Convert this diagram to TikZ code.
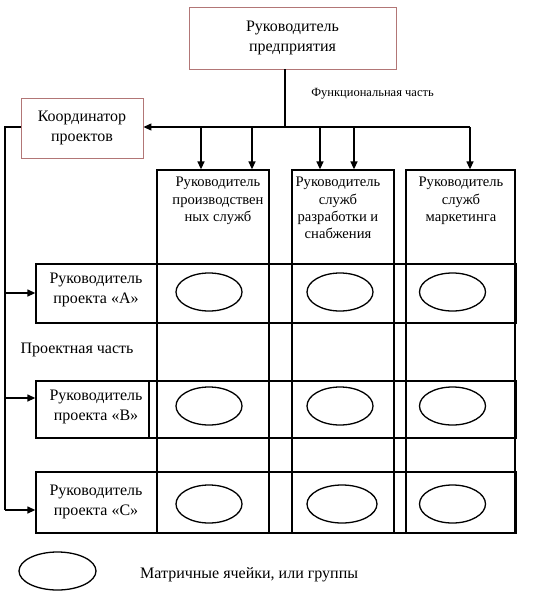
\documentclass[tikz,border=0pt]{standalone}
\usepackage{fontspec}
\setmainfont{Liberation Serif}
\usetikzlibrary{arrows.meta,shapes.geometric}
\definecolor{rosebrd}{RGB}{178,118,118}
\tikzset{
  x=1pt,y=-1pt,
  line/.style={line width=1.3pt,black},
  arr/.style={line, -{Triangle[length=8pt,width=7pt]}},
  redbox/.style={draw=rosebrd,line width=0.9pt,rectangle,inner sep=0pt,
    font=\fontsize{16}{20}\selectfont,align=center},
  blkbox/.style={draw,line width=1.3pt,rectangle,inner sep=0pt},
  main/.style={font=\fontsize{16}{20}\selectfont,align=center,inner sep=0pt},
  head/.style={font=\fontsize{14.6}{17.4}\selectfont,align=center,inner sep=0pt,anchor=north},
  small/.style={font=\fontsize{12.5}{15}\selectfont,inner sep=0pt},
  cell/.style={draw,line width=1.3pt,ellipse,minimum width=66pt,minimum height=38pt,inner sep=0pt},
}
\begin{document}
\begin{tikzpicture}
\useasboundingbox[fill=white] (0,0) rectangle (548,595);
% top boxes
\node[redbox,minimum width=207pt,minimum height=62pt] (top) at (292.5,38) {Руководитель\\предприятия};
\node[redbox,minimum width=122pt,minimum height=60pt] (coord) at (82,128) {Координатор\\проектов};
% columns
\node[blkbox,minimum width=112pt,minimum height=363pt] (c1) at (213,351.5) {};
\node[blkbox,minimum width=102pt,minimum height=363pt] (c2) at (343,351.5) {};
\node[blkbox,minimum width=109pt,minimum height=363pt] (c3) at (460.5,351.5) {};
% rows
\node[blkbox,minimum width=480pt,minimum height=59pt] (rA) at (276,293.5) {};
\node[blkbox,minimum width=480pt,minimum height=57pt] (rB) at (276,409.5) {};
\node[blkbox,minimum width=480pt,minimum height=61pt] (rC) at (276,502.5) {};
\draw[line] (c1.west |- rA.north) -- (c1.west |- rA.south);
\draw[line] (c1.west |- rB.north) -- (c1.west |- rB.south);
\draw[line] (c1.west |- rC.north) -- (c1.west |- rC.south);
\draw[line] (149,0 |- rB.north) -- (149,0 |- rB.south);
% header texts
\node[head] (h1) at (218,177) {Руководитель\\производствен\\ных служб};
\node[head] (h2) at (338,177) {Руководитель\\служб\\разработки и\\снабжения};
\node[head] (h3) at (461,177) {Руководитель\\служб\\маркетинга};
% row texts
\node[main] (tA) at (96,290) {Руководитель\\проекта «А»};
\node[main] (tB) at (96,407) {Руководитель\\проекта «В»};
\node[main] (tC) at (96,502) {Руководитель\\проекта «С»};
\node[main] (proj) at (77,350) {Проектная часть};
\node[small] (func) at (372.5,94) {Функциональная часть};
% cells
\node[cell] (a1) at (209,292) {};
\node[cell] (a2) at (340,292) {};
\node[cell] (a3) at (452.5,292) {};
\node[cell] (b1) at (209,406) {};
\node[cell] (b2) at (340,406) {};
\node[cell] (b3) at (452.5,406) {};
\node[cell] (d1) at (209,504) {};
\node[cell,minimum width=70pt] (d2) at (342,504) {};
\node[cell] (d3) at (452.5,504) {};
% legend
\node[cell,minimum width=77pt] (leg) at (57.5,571) {};
\node[main,anchor=west] (legt) at (140,575) {Матричные ячейки, или группы};
% connectors
\coordinate (j) at (285,127);
\coordinate (e) at (470,127);
\coordinate (l) at (5,127);
\coordinate (pa) at (5,293);
\coordinate (pb) at (5,398);
\coordinate (pc) at (5,510);
\draw[line] (top.south -| j) -- (j);
\draw[arr] (j) -- (coord.east |- j);
\draw[line] (j) -- (e);
\foreach \xx/\cc in {201/c1,252/c1,320/c2,354/c2}
  \draw[arr] (\xx,127) -- (\xx,0 |- \cc.north);
\draw[arr] (e) -- (e |- c3.north);
\draw[line] (coord.west |- l) -- (l) -- (pc);
\draw[arr] (pa) -- (rA.west |- pa);
\draw[arr] (pb) -- (rB.west |- pb);
\draw[arr] (pc) -- (rC.west |- pc);
\end{tikzpicture}
\end{document}
